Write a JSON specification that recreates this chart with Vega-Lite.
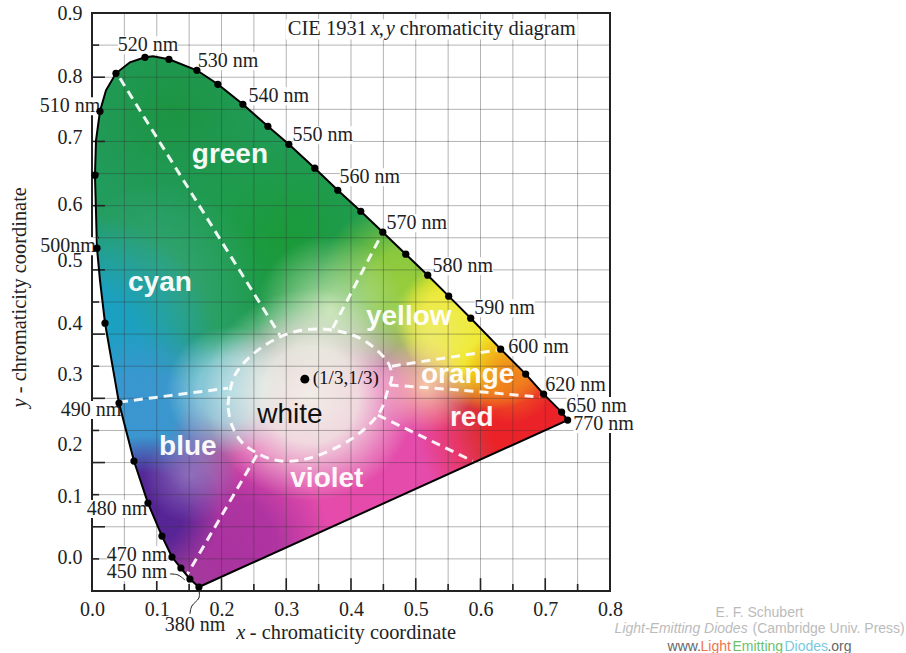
{
"$schema":"https://vega.github.io/schema/vega-lite/v6.json",
"width":518,"height":578,"autosize":"none",
"padding":{"left":92,"top":13,"right":296,"bottom":62},
"background":"white",
"config":{"view":{"stroke":"#222","strokeWidth":2}},
"datasets":{
"locus":[
{"o":1,"x":0.1651,"y":0.0062,"dot":true},{"o":2,"x":0.1512,"y":0.0187,"dot":true},{"o":3,"x":0.1373,"y":0.0358,"dot":true},{"o":4,"x":0.1235,"y":0.0529,"dot":true},{"o":5,"x":0.108,"y":0.0856,"dot":true},{"o":6,"x":0.0864,"y":0.1369,"dot":true},{"o":7,"x":0.0648,"y":0.2023,"dot":true},{"o":8,"x":0.0417,"y":0.2926,"dot":true},{"o":9,"x":0.0201,"y":0.4171,"dot":true},{"o":10,"x":0.0123,"y":0.484,"dot":false},{"o":11,"x":0.0077,"y":0.5338,"dot":true},{"o":12,"x":0.0046,"y":0.6474,"dot":true},{"o":13,"x":0.0062,"y":0.7018,"dot":false},{"o":14,"x":0.0123,"y":0.747,"dot":true},{"o":15,"x":0.0216,"y":0.7796,"dot":false},{"o":16,"x":0.037,"y":0.8061,"dot":true},{"o":17,"x":0.0586,"y":0.8232,"dot":false},{"o":18,"x":0.0818,"y":0.831,"dot":true},{"o":19,"x":0.0941,"y":0.8326,"dot":false},{"o":20,"x":0.1188,"y":0.8279,"dot":true},{"o":21,"x":0.162,"y":0.8108,"dot":true},{"o":22,"x":0.1944,"y":0.789,"dot":true},{"o":23,"x":0.233,"y":0.7579,"dot":true},{"o":24,"x":0.2716,"y":0.7236,"dot":true},{"o":25,"x":0.304,"y":0.6956,"dot":true},{"o":26,"x":0.3441,"y":0.6583,"dot":true},{"o":27,"x":0.3796,"y":0.624,"dot":true},{"o":28,"x":0.4151,"y":0.5913,"dot":true},{"o":29,"x":0.4491,"y":0.5587,"dot":true},{"o":30,"x":0.4846,"y":0.5244,"dot":true},{"o":31,"x":0.5185,"y":0.4917,"dot":true},{"o":32,"x":0.5509,"y":0.4591,"dot":true},{"o":33,"x":0.5849,"y":0.4248,"dot":true},{"o":34,"x":0.6312,"y":0.3766,"dot":true},{"o":35,"x":0.6698,"y":0.3377,"dot":true},{"o":36,"x":0.6975,"y":0.3066,"dot":true},{"o":37,"x":0.7253,"y":0.2786,"dot":true},{"o":38,"x":0.7346,"y":0.2661,"dot":true},{"o":39,"x":0.1651,"y":0.0062,"dot":false}
],
"grid":[
{"x":0.05,"y":0,"x2":0.05,"y2":0.9},{"x":0.1,"y":0,"x2":0.1,"y2":0.9},{"x":0.15,"y":0,"x2":0.15,"y2":0.9},{"x":0.2,"y":0,"x2":0.2,"y2":0.9},{"x":0.25,"y":0,"x2":0.25,"y2":0.9},{"x":0.3,"y":0,"x2":0.3,"y2":0.9},{"x":0.35,"y":0,"x2":0.35,"y2":0.9},{"x":0.4,"y":0,"x2":0.4,"y2":0.9},{"x":0.45,"y":0,"x2":0.45,"y2":0.9},{"x":0.5,"y":0,"x2":0.5,"y2":0.9},{"x":0.55,"y":0,"x2":0.55,"y2":0.9},{"x":0.6,"y":0,"x2":0.6,"y2":0.9},{"x":0.65,"y":0,"x2":0.65,"y2":0.9},{"x":0.7,"y":0,"x2":0.7,"y2":0.9},{"x":0.75,"y":0,"x2":0.75,"y2":0.9},
{"x":0,"y":0.05,"x2":0.8,"y2":0.05},{"x":0,"y":0.1,"x2":0.8,"y2":0.1},{"x":0,"y":0.15,"x2":0.8,"y2":0.15},{"x":0,"y":0.2,"x2":0.8,"y2":0.2},{"x":0,"y":0.25,"x2":0.8,"y2":0.25},{"x":0,"y":0.3,"x2":0.8,"y2":0.3},{"x":0,"y":0.35,"x2":0.8,"y2":0.35},{"x":0,"y":0.4,"x2":0.8,"y2":0.4},{"x":0,"y":0.45,"x2":0.8,"y2":0.45},{"x":0,"y":0.5,"x2":0.8,"y2":0.5},{"x":0,"y":0.55,"x2":0.8,"y2":0.55},{"x":0,"y":0.6,"x2":0.8,"y2":0.6},{"x":0,"y":0.65,"x2":0.8,"y2":0.65},{"x":0,"y":0.7,"x2":0.8,"y2":0.7},{"x":0,"y":0.75,"x2":0.8,"y2":0.75},{"x":0,"y":0.8,"x2":0.8,"y2":0.8},{"x":0,"y":0.85,"x2":0.8,"y2":0.85}
],
"ticks":[
{"x":0.05,"y":0,"x2":0.05,"y2":0.011},{"x":0.1,"y":0,"x2":0.1,"y2":0.02},{"x":0.15,"y":0,"x2":0.15,"y2":0.011},{"x":0.2,"y":0,"x2":0.2,"y2":0.02},{"x":0.25,"y":0,"x2":0.25,"y2":0.011},{"x":0.3,"y":0,"x2":0.3,"y2":0.02},{"x":0.35,"y":0,"x2":0.35,"y2":0.011},{"x":0.4,"y":0,"x2":0.4,"y2":0.02},{"x":0.45,"y":0,"x2":0.45,"y2":0.011},{"x":0.5,"y":0,"x2":0.5,"y2":0.02},{"x":0.55,"y":0,"x2":0.55,"y2":0.011},{"x":0.6,"y":0,"x2":0.6,"y2":0.02},{"x":0.65,"y":0,"x2":0.65,"y2":0.011},{"x":0.7,"y":0,"x2":0.7,"y2":0.02},{"x":0.75,"y":0,"x2":0.75,"y2":0.011},
{"x":0,"y":0.05,"x2":0.011,"y2":0.05},{"x":0,"y":0.1,"x2":0.02,"y2":0.1},{"x":0,"y":0.15,"x2":0.011,"y2":0.15},{"x":0,"y":0.2,"x2":0.02,"y2":0.2},{"x":0,"y":0.25,"x2":0.011,"y2":0.25},{"x":0,"y":0.3,"x2":0.02,"y2":0.3},{"x":0,"y":0.35,"x2":0.011,"y2":0.35},{"x":0,"y":0.4,"x2":0.02,"y2":0.4},{"x":0,"y":0.45,"x2":0.011,"y2":0.45},{"x":0,"y":0.5,"x2":0.02,"y2":0.5},{"x":0,"y":0.55,"x2":0.011,"y2":0.55},{"x":0,"y":0.6,"x2":0.02,"y2":0.6},{"x":0,"y":0.65,"x2":0.011,"y2":0.65},{"x":0,"y":0.7,"x2":0.02,"y2":0.7},{"x":0,"y":0.75,"x2":0.011,"y2":0.75},{"x":0,"y":0.8,"x2":0.02,"y2":0.8},{"x":0,"y":0.85,"x2":0.011,"y2":0.85}
],
"nm":[
{"t":"520 nm","x":0.0864,"y":0.8497},{"t":"530 nm","x":0.2099,"y":0.8248},{"t":"540 nm","x":0.2886,"y":0.7703},{"t":"550 nm","x":0.3565,"y":0.7096},{"t":"560 nm","x":0.429,"y":0.6443},{"t":"570 nm","x":0.5015,"y":0.5727},{"t":"580 nm","x":0.5725,"y":0.5058},{"t":"590 nm","x":0.6373,"y":0.4404},{"t":"600 nm","x":0.6898,"y":0.3797},{"t":"620 nm","x":0.7469,"y":0.3206},{"t":"650 nm","x":0.7793,"y":0.2879},{"t":"770 nm","x":0.7901,"y":0.2599},{"t":"510 nm","x":-0.034,"y":0.7548},{"t":"500nm","x":-0.037,"y":0.5369},{"t":"490 nm","x":-0.0015,"y":0.2817},{"t":"480 nm","x":0.0386,"y":0.1276},{"t":"470 nm","x":0.0694,"y":0.056},{"t":"450 nm","x":0.0694,"y":0.0296},{"t":"380 nm","x":0.159,"y":-0.0529}
],
"ylabels":[
{"t":"0.9","x":-0.034,"y":0.8979},{"t":"0.8","x":-0.034,"y":0.7999},{"t":"0.7","x":-0.034,"y":0.7049},{"t":"0.6","x":-0.034,"y":0.6007},{"t":"0.5","x":-0.034,"y":0.5135},{"t":"0.4","x":-0.034,"y":0.4155},{"t":"0.3","x":-0.034,"y":0.3361},{"t":"0.2","x":-0.034,"y":0.2272},{"t":"0.1","x":-0.034,"y":0.1463},{"t":"0.0","x":-0.034,"y":0.0514}
],
"regionsWhite":[
{"t":"green","x":0.213,"y":0.6785},{"t":"cyan","x":0.1049,"y":0.4793},{"t":"yellow","x":0.4892,"y":0.4264},{"t":"orange","x":0.5802,"y":0.3361},{"t":"red","x":0.5864,"y":0.2692},{"t":"blue","x":0.1481,"y":0.2241},{"t":"violet","x":0.3627,"y":0.1743}
],
"bounds":[
{"s":"a","o":1,"x":0.0432,"y":0.7983},{"s":"a","o":2,"x":0.2901,"y":0.3984},
{"s":"b","o":1,"x":0.3719,"y":0.4093},{"s":"b","o":2,"x":0.4491,"y":0.5587},
{"s":"c","o":1,"x":0.463,"y":0.3501},{"s":"c","o":2,"x":0.625,"y":0.375},
{"s":"d","o":1,"x":0.4599,"y":0.3206},{"s":"d","o":2,"x":0.5679,"y":0.3128},{"s":"d","o":3,"x":0.6914,"y":0.3019},
{"s":"e","o":1,"x":0.4414,"y":0.2739},{"s":"e","o":2,"x":0.588,"y":0.2023},
{"s":"f","o":1,"x":0.2546,"y":0.2116},{"s":"f","o":2,"x":0.1466,"y":0.0249},
{"s":"g","o":1,"x":0.0417,"y":0.2941},{"s":"g","o":2,"x":0.2099,"y":0.3159},
{"s":"w","o":1,"x":0.2099,"y":0.2894},{"s":"w","o":2,"x":0.2207,"y":0.3361},{"s":"w","o":3,"x":0.2562,"y":0.375},{"s":"w","o":4,"x":0.3056,"y":0.4015},{"s":"w","o":5,"x":0.3596,"y":0.4077},{"s":"w","o":6,"x":0.4136,"y":0.3937},{"s":"w","o":7,"x":0.4522,"y":0.3626},{"s":"w","o":8,"x":0.463,"y":0.3361},{"s":"w","o":9,"x":0.4568,"y":0.3128},{"s":"w","o":10,"x":0.4414,"y":0.2739},{"s":"w","o":11,"x":0.3981,"y":0.235},{"s":"w","o":12,"x":0.3364,"y":0.207},{"s":"w","o":13,"x":0.2824,"y":0.2039},{"s":"w","o":14,"x":0.2361,"y":0.2272},{"s":"w","o":15,"x":0.216,"y":0.2583},{"s":"w","o":16,"x":0.2099,"y":0.2894}
],
"leaders":[
{"s":"450","o":1,"x":0.1204,"y":0.0265},{"s":"450","o":2,"x":0.1327,"y":0.025},{"s":"450","o":3,"x":0.1435,"y":0.0171},
{"s":"380","o":1,"x":0.1512,"y":-0.0358},{"s":"380","o":2,"x":0.1543,"y":-0.0233},{"s":"380","o":3,"x":0.1651,"y":-0.0109},{"s":"380","o":4,"x":0.1651,"y":0.0016}
],
"wm":[
{"t":"www.","x":0.8889,"y":-0.0871,"p":"a"},{"t":"Light","x":0.9398,"y":-0.0871,"p":"b"},{"t":"Emitting","x":0.9892,"y":-0.0871,"p":"c"},{"t":"Diodes","x":1.0694,"y":-0.0871,"p":"d"},{"t":".org","x":1.1358,"y":-0.0871,"p":"a"}
]
},
"encoding":{
"x":{"field":"x","type":"quantitative","scale":{"domain":[0,0.8],"nice":false,"zero":false},"axis":{"title":null,"grid":false,"ticks":false,"domain":false,"values":[0,0.1,0.2,0.3,0.4,0.5,0.6,0.7,0.8],"format":".1f","labelFont":"Liberation Serif","labelFontSize":20,"labelColor":"#222","labelPadding":8,"labelOverlap":false,"labelFlush":false}},
"y":{"field":"y","type":"quantitative","scale":{"domain":[0,0.9],"nice":false,"zero":false},"axis":{"title":null,"grid":false,"ticks":false,"domain":false,"labels":false}}
},
"layer":[
{"data":{"name":"locus"},"mark":{"type":"line","strokeWidth":0,"fill":"#229c5d"},"encoding":{"order":{"field":"o"}}},
{"data":{"name":"locus"},"mark":{"type":"line","strokeWidth":0,"fill":{"gradient":"radial","x1":0.204,"y1":0.102,"r1":0,"x2":0.204,"y2":0.102,"r2":0.2,"stops":[{"offset":0,"color":"rgba(28,148,66,1)"},{"offset":1,"color":"rgba(28,148,66,0)"}]}},"encoding":{"order":{"field":"o"}}},
{"data":{"name":"locus"},"mark":{"type":"line","strokeWidth":0,"fill":{"gradient":"radial","x1":0.415,"y1":0.347,"r1":0,"x2":0.415,"y2":0.347,"r2":0.24,"stops":[{"offset":0,"color":"rgba(26,154,56,1)"},{"offset":1,"color":"rgba(26,154,56,0)"}]}},"encoding":{"order":{"field":"o"}}},
{"data":{"name":"locus"},"mark":{"type":"line","strokeWidth":0,"fill":{"gradient":"radial","x1":0.173,"y1":0.441,"r1":0,"x2":0.173,"y2":0.441,"r2":0.2,"stops":[{"offset":0,"color":"rgba(55,165,120,1)"},{"offset":1,"color":"rgba(55,165,120,0)"}]}},"encoding":{"order":{"field":"o"}}},
{"data":{"name":"locus"},"mark":{"type":"line","strokeWidth":0,"fill":{"gradient":"radial","x1":0.025,"y1":0.554,"r1":0,"x2":0.025,"y2":0.554,"r2":0.26,"stops":[{"offset":0,"color":"rgba(25,160,200,1)"},{"offset":0.45,"color":"rgba(25,160,200,0.9)"},{"offset":1,"color":"rgba(25,160,200,0)"}]}},"encoding":{"order":{"field":"o"}}},
{"data":{"name":"locus"},"mark":{"type":"line","strokeWidth":0,"fill":{"gradient":"radial","x1":0.152,"y1":0.695,"r1":0,"x2":0.152,"y2":0.695,"r2":0.19,"stops":[{"offset":0,"color":"rgba(60,150,210,1)"},{"offset":0.5,"color":"rgba(60,150,210,0.9)"},{"offset":1,"color":"rgba(60,150,210,0)"}]}},"encoding":{"order":{"field":"o"}}},
{"data":{"name":"locus"},"mark":{"type":"line","strokeWidth":0,"fill":{"gradient":"radial","x1":0.541,"y1":0.817,"r1":0,"x2":0.541,"y2":0.817,"r2":0.36,"stops":[{"offset":0,"color":"rgba(228,75,170,1)"},{"offset":0.6,"color":"rgba(228,75,170,1)"},{"offset":1,"color":"rgba(228,75,170,0)"}]}},"encoding":{"order":{"field":"o"}}},
{"data":{"name":"locus"},"mark":{"type":"line","strokeWidth":0,"fill":{"gradient":"radial","x1":0.299,"y1":0.93,"r1":0,"x2":0.299,"y2":0.93,"r2":0.2,"stops":[{"offset":0,"color":"rgba(170,50,160,1)"},{"offset":0.5,"color":"rgba(170,50,160,0.9)"},{"offset":1,"color":"rgba(170,50,160,0)"}]}},"encoding":{"order":{"field":"o"}}},
{"data":{"name":"locus"},"mark":{"type":"line","strokeWidth":0,"fill":{"gradient":"radial","x1":0.152,"y1":0.855,"r1":0,"x2":0.152,"y2":0.855,"r2":0.14,"stops":[{"offset":0,"color":"rgba(85,35,150,1)"},{"offset":0.5,"color":"rgba(85,35,150,0.95)"},{"offset":1,"color":"rgba(85,35,150,0)"}]}},"encoding":{"order":{"field":"o"}}},
{"data":{"name":"locus"},"mark":{"type":"line","strokeWidth":0,"fill":{"gradient":"radial","x1":0.236,"y1":0.789,"r1":0,"x2":0.236,"y2":0.789,"r2":0.09,"stops":[{"offset":0,"color":"rgba(150,120,195,0.8)"},{"offset":1,"color":"rgba(150,120,195,0)"}]}},"encoding":{"order":{"field":"o"}}},
{"data":{"name":"locus"},"mark":{"type":"line","strokeWidth":0,"fill":{"gradient":"radial","x1":0.309,"y1":0.629,"r1":0,"x2":0.309,"y2":0.629,"r2":0.12,"stops":[{"offset":0,"color":"rgba(150,210,225,1)"},{"offset":0.5,"color":"rgba(150,210,225,0.8)"},{"offset":1,"color":"rgba(150,210,225,0)"}]}},"encoding":{"order":{"field":"o"}}},
{"data":{"name":"locus"},"mark":{"type":"line","strokeWidth":0,"fill":{"gradient":"radial","x1":0.93,"y1":0.676,"r1":0,"x2":0.93,"y2":0.676,"r2":0.27,"stops":[{"offset":0,"color":"rgba(235,35,40,1)"},{"offset":0.5,"color":"rgba(235,35,40,1)"},{"offset":1,"color":"rgba(235,35,40,0)"}]}},"encoding":{"order":{"field":"o"}}},
{"data":{"name":"locus"},"mark":{"type":"line","strokeWidth":0,"fill":{"gradient":"radial","x1":0.636,"y1":0.431,"r1":0,"x2":0.636,"y2":0.431,"r2":0.16,"stops":[{"offset":0,"color":"rgba(150,205,60,1)"},{"offset":0.4,"color":"rgba(150,205,60,0.9)"},{"offset":1,"color":"rgba(150,205,60,0)"}]}},"encoding":{"order":{"field":"o"}}},
{"data":{"name":"locus"},"mark":{"type":"line","strokeWidth":0,"fill":{"gradient":"radial","x1":0.794,"y1":0.507,"r1":0,"x2":0.794,"y2":0.507,"r2":0.16,"stops":[{"offset":0,"color":"rgba(242,230,20,1)"},{"offset":0.6,"color":"rgba(242,230,20,1)"},{"offset":1,"color":"rgba(242,230,20,0)"}]}},"encoding":{"order":{"field":"o"}}},
{"data":{"name":"locus"},"mark":{"type":"line","strokeWidth":0,"fill":{"gradient":"radial","x1":0.73,"y1":0.497,"r1":0,"x2":0.73,"y2":0.497,"r2":0.11,"stops":[{"offset":0,"color":"rgba(240,235,50,1)"},{"offset":0.5,"color":"rgba(240,235,50,0.9)"},{"offset":1,"color":"rgba(240,235,50,0)"}]}},"encoding":{"order":{"field":"o"}}},
{"data":{"name":"locus"},"mark":{"type":"line","strokeWidth":0,"fill":{"gradient":"radial","x1":0.836,"y1":0.601,"r1":0,"x2":0.836,"y2":0.601,"r2":0.09,"stops":[{"offset":0,"color":"rgba(240,120,30,1)"},{"offset":1,"color":"rgba(240,120,30,0)"}]}},"encoding":{"order":{"field":"o"}}},
{"data":{"name":"locus"},"mark":{"type":"line","strokeWidth":0,"fill":{"gradient":"radial","x1":0.688,"y1":0.525,"r1":0,"x2":0.688,"y2":0.525,"r2":0.1,"stops":[{"offset":0,"color":"rgba(235,235,130,0.7)"},{"offset":1,"color":"rgba(235,235,130,0)"}]}},"encoding":{"order":{"field":"o"}}},
{"data":{"name":"locus"},"mark":{"type":"line","strokeWidth":0,"fill":{"gradient":"radial","x1":0.678,"y1":0.62,"r1":0,"x2":0.678,"y2":0.62,"r2":0.09,"stops":[{"offset":0,"color":"rgba(248,205,165,0.95)"},{"offset":1,"color":"rgba(248,205,165,0)"}]}},"encoding":{"order":{"field":"o"}}},
{"data":{"name":"locus"},"mark":{"type":"line","strokeWidth":0,"fill":{"gradient":"radial","x1":0.499,"y1":0.478,"r1":0,"x2":0.499,"y2":0.478,"r2":0.14,"stops":[{"offset":0,"color":"rgba(190,225,170,1)"},{"offset":1,"color":"rgba(190,225,170,0)"}]}},"encoding":{"order":{"field":"o"}}},
{"data":{"name":"locus"},"mark":{"type":"line","strokeWidth":0,"fill":{"gradient":"radial","x1":0.46,"y1":0.638,"r1":0,"x2":0.46,"y2":0.638,"r2":0.2,"stops":[{"offset":0,"color":"rgba(242,242,232,0.97)"},{"offset":0.45,"color":"rgba(242,242,232,0.85)"},{"offset":0.8,"color":"rgba(242,242,232,0.3)"},{"offset":1,"color":"rgba(242,242,232,0)"}]}},"encoding":{"order":{"field":"o"}}},
{"data":{"name":"grid"},"mark":{"type":"rule","stroke":"#333","strokeOpacity":0.37,"strokeWidth":1},"encoding":{"x2":{"field":"x2"},"y2":{"field":"y2"}}},
{"data":{"name":"ticks"},"mark":{"type":"rule","stroke":"#222","strokeWidth":1.6},"encoding":{"x2":{"field":"x2"},"y2":{"field":"y2"}}},
{"data":{"name":"nm"},"mark":{"type":"point","shape":"M-1 -0.3 L1 -0.3 L1 0.3 L-1 0.3 Z","size":3600,"filled":true,"fill":"#fff","opacity":1,"strokeWidth":0}},
{"data":{"values":[{"x":0.5247,"y":0.8745}]},"mark":{"type":"point","shape":"M-1 -0.07 L1 -0.07 L1 0.07 L-1 0.07 Z","size":85264,"filled":true,"fill":"#fff","opacity":1,"strokeWidth":0}},
{"data":{"name":"nm"},"mark":{"type":"text","font":"Liberation Serif","fontSize":20,"fill":"#222"},"encoding":{"text":{"field":"t"}}},
{"data":{"name":"ylabels"},"mark":{"type":"text","font":"Liberation Serif","fontSize":20,"fill":"#222"},"encoding":{"text":{"field":"t"}}},
{"data":{"name":"bounds"},"mark":{"type":"line","stroke":"#fff","strokeWidth":3,"strokeDash":[9,6],"interpolate":"cardinal","strokeOpacity":0.92},"encoding":{"detail":{"field":"s"},"order":{"field":"o"}}},
{"data":{"name":"leaders"},"mark":{"type":"line","stroke":"#222","strokeWidth":1,"interpolate":"cardinal"},"encoding":{"detail":{"field":"s"},"order":{"field":"o"}}},
{"data":{"name":"locus"},"mark":{"type":"line","stroke":"#000","strokeWidth":2},"encoding":{"order":{"field":"o"}}},
{"data":{"name":"locus"},"transform":[{"filter":"datum.dot"}],"mark":{"type":"circle","size":52,"fill":"#000","opacity":1}},
{"data":{"values":[{"x":0.3287,"y":0.3299}]},"mark":{"type":"circle","size":80,"fill":"#000","opacity":1}},
{"data":{"values":[{"t":"(1/3,1/3)","x":0.341,"y":0.3315}]},"mark":{"type":"text","font":"Liberation Serif","fontSize":19,"fill":"#111","align":"left"},"encoding":{"text":{"field":"t"}}},
{"data":{"name":"regionsWhite"},"mark":{"type":"text","font":"Liberation Sans","fontSize":28,"fontWeight":"bold","fill":"#fff","opacity":0.95},"encoding":{"text":{"field":"t"}}},
{"data":{"values":[{"t":"white","x":0.3056,"y":0.2739}]},"mark":{"type":"text","font":"Liberation Sans","fontSize":28,"fill":"#111"},"encoding":{"text":{"field":"t"}}},
{"data":{"values":[{"t":"CIE 1931","x":0.3025,"y":0.8745},{"t":",","x":0.4429,"y":0.8745},{"t":"chromaticity diagram","x":0.4753,"y":0.8745}]},"mark":{"type":"text","font":"Liberation Serif","fontSize":20.5,"align":"left","fill":"#222"},"encoding":{"text":{"field":"t"}}},
{"data":{"values":[{"t":"x","x":0.4306,"y":0.8745},{"t":"y","x":0.4537,"y":0.8745}]},"mark":{"type":"text","font":"Liberation Serif","fontSize":20.5,"fontStyle":"italic","align":"left","fill":"#222"},"encoding":{"text":{"field":"t"}}},
{"data":{"values":[{"t":"x","x":0.2299,"y":-0.0654}]},"mark":{"type":"text","font":"Liberation Serif","fontSize":20.4,"fontStyle":"italic","fill":"#222"},"encoding":{"text":{"field":"t"}}},
{"data":{"values":[{"t":"- chromaticity coordinate","x":0.2438,"y":-0.0654}]},"mark":{"type":"text","font":"Liberation Serif","fontSize":20.4,"align":"left","fill":"#222"},"encoding":{"text":{"field":"t"}}},
{"data":{"values":[{"t":"- chromaticity coordinate","x":-0.111,"y":0.4684}]},"mark":{"type":"text","font":"Liberation Serif","fontSize":20.4,"angle":270,"fill":"#222"},"encoding":{"text":{"field":"t"}}},
{"data":{"values":[{"t":"y","x":-0.111,"y":0.2926}]},"mark":{"type":"text","font":"Liberation Serif","fontSize":20.4,"angle":270,"fontStyle":"italic","fill":"#222"},"encoding":{"text":{"field":"t"}}},
{"data":{"values":[{"t":"E. F. Schubert","x":1.0309,"y":-0.0342}]},"mark":{"type":"text","font":"Liberation Sans","fontSize":14,"fill":"#bbb"},"encoding":{"text":{"field":"t"}}},
{"data":{"values":[{"t":"Light-Emitting Diodes","x":0.8071,"y":-0.0591}]},"mark":{"type":"text","font":"Liberation Sans","fontSize":14,"fontStyle":"italic","align":"left","fill":"#bbb"},"encoding":{"text":{"field":"t"}}},
{"data":{"values":[{"t":"(Cambridge Univ. Press)","x":1.0201,"y":-0.0591}]},"mark":{"type":"text","font":"Liberation Sans","fontSize":14,"align":"left","fill":"#bbb"},"encoding":{"text":{"field":"t"}}},
{"data":{"name":"wm"},"mark":{"type":"text","font":"Liberation Sans","fontSize":14,"align":"left"},"encoding":{"text":{"field":"t"},"color":{"field":"p","type":"nominal","legend":null,"scale":{"domain":["a","b","c","d"],"range":["#666","#f0734a","#6cc06c","#7cc8e0"]}}}}
]
}
